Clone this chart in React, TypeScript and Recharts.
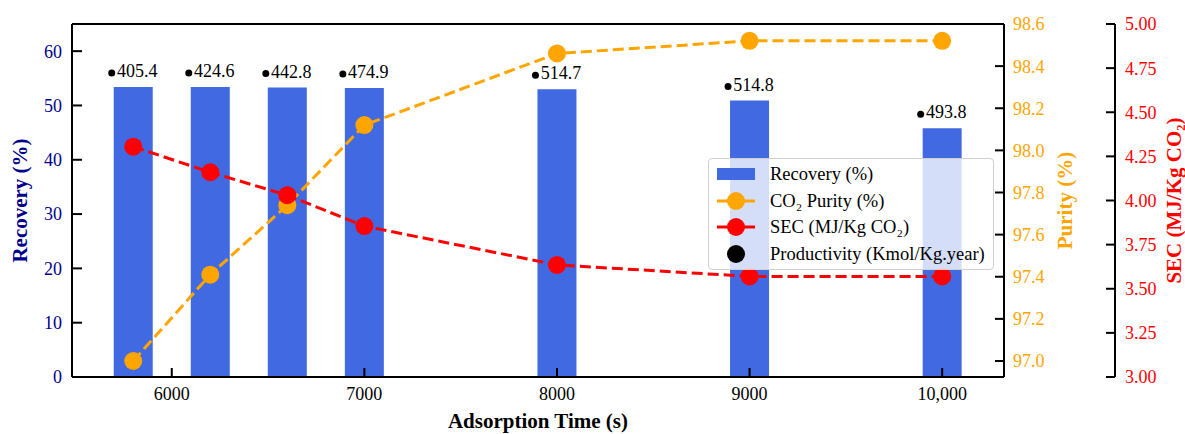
import React from 'react';
import { ComposedChart, Bar, Line, XAxis, YAxis, LabelList, ReferenceLine, Label } from 'recharts';

const adsorptionTimes = [5800, 6200, 6600, 7000, 8000, 9000, 10000];
const recovery = [53.4, 53.4, 53.3, 53.2, 53.0, 50.9, 45.8];
const co2Purity = [97.0, 97.41, 97.74, 98.12, 98.46, 98.52, 98.52];
const sec = [4.305, 4.16, 4.03, 3.855, 3.635, 3.57, 3.57];
const productivity = [405.4, 424.6, 442.8, 474.9, 514.7, 514.8, 493.8];

const xTicks = [6000, 7000, 8000, 9000, 10000];
const recoveryTicks = [0, 10, 20, 30, 40, 50, 60];
const purityTicks = [97.0, 97.2, 97.4, 97.6, 97.8, 98.0, 98.2, 98.4, 98.6];
const secTicks = [3.0, 3.25, 3.5, 3.75, 4.0, 4.25, 4.5, 4.75, 5.0];

const FONT = '"Liberation Serif", "Times New Roman", serif';
const NAVY = '#00008B';
const ORANGE = '#FFA500';
const RED = '#FF0000';
const BLUE = '#4169E1';

const chartData = adsorptionTimes.map((t, i) => ({
  time: t,
  recovery: recovery[i],
  purity: co2Purity[i],
  sec: sec[i],
  productivity: productivity[i],
}));

// tick text drawn by hand so the serif font sticks
const makeTick = (color: string, fmt: (v: number) => string, dy: string) => (p: any) => (
  <text x={p.x} y={p.y} dy={dy} textAnchor={p.textAnchor} fill={color}
    style={{ fontFamily: FONT, fontSize: 18 }}>
    {fmt(p.payload.value)}
  </text>
);

// productivity value printed above each bar, with a small black dot in front
const ProductivityLabel = (props: any) => {
  const { x, y, width, value } = props;
  const cx = x + width / 2;
  const cy = y - 14;
  return (
    <g>
      <circle cx={cx - 21.5} cy={cy} r={3.5} fill="#000" />
      <text x={cx + 4} y={cy} textAnchor="middle" dominantBaseline="middle" style={{ fontFamily: FONT, fontSize: 18 }} fill="#000">
        {value.toFixed(1)}
      </text>
    </g>
  );
};

const verticalTitle = (text: React.ReactNode, dx: number, color: string) => (props: any) => {
  const { viewBox } = props;
  const cx = viewBox.x + dx;
  const cy = viewBox.y + viewBox.height / 2;
  return (
    <text x={cx} y={cy} transform={`rotate(-90, ${cx}, ${cy})`} textAnchor="middle" dominantBaseline="middle"
      style={{ fontFamily: FONT, fontSize: 21, fontWeight: 'bold' }} fill={color}>
      {text}
    </text>
  );
};

const LegendBox = () => {
  const row = { display: 'flex', alignItems: 'center', height: 26.5 } as React.CSSProperties;
  const lineSwatch = (color: string) => (
    <svg width={40} height={22} style={{ marginRight: 14 }}>
      <line x1={1} y1={11} x2={39} y2={11} stroke={color} strokeWidth={3} />
      <circle cx={20} cy={11} r={9} fill={color} />
    </svg>
  );
  return (
    <div style={{
      position: 'absolute', left: 708, top: 158, width: 271,
      background: 'rgba(255,255,255,0.78)', border: '1.5px solid #d0d0d0', borderRadius: 4,
      padding: '2px 6px 2px 7px', fontFamily: FONT, fontSize: 18.5, color: '#000', lineHeight: 1,
    }}>
      <div style={row}>
        <svg width={40} height={22} style={{ marginRight: 14 }}><rect x={1} y={5} width={38} height={12} fill={BLUE} /></svg>
        <span>Recovery (%)</span>
      </div>
      <div style={row}>{lineSwatch(ORANGE)}<span>CO₂ Purity (%)</span></div>
      <div style={row}>{lineSwatch(RED)}<span>SEC (MJ/Kg CO₂)</span></div>
      <div style={row}>
        <svg width={40} height={22} style={{ marginRight: 14 }}><circle cx={20} cy={11} r={9} fill="#000" /></svg>
        <span>Productivity (Kmol/Kg.year)</span>
      </div>
    </div>
  );
};

export default function App() {
  return (
    <div style={{ position: 'absolute', left: 0, top: 0, width: 1185, height: 434, background: '#fff' }}>
      <ComposedChart width={1185} height={434} data={chartData} margin={{ top: 24, right: 0, left: 0, bottom: 0 }}>
        <XAxis
          dataKey="time"
          type="number"
          domain={[5482, 10321]}
          ticks={xTicks}
          allowDataOverflow
          height={57}
          tick={makeTick('#000', (v) => (v >= 10000 ? v.toLocaleString('en-US') : String(v)), '0.71em')}
          axisLine={{ stroke: '#000', strokeWidth: 2 }}
          tickLine={{ stroke: '#000', strokeWidth: 2 }}
          tickSize={-9}
          tickMargin={19}
        >
          <Label content={(props: any) => (
            <text x={props.viewBox.x + props.viewBox.width / 2} y={423} textAnchor="middle" dominantBaseline="middle"
              style={{ fontFamily: FONT, fontSize: 21, fontWeight: 'bold' }} fill="#000">Adsorption Time (s)</text>
          )} />
        </XAxis>
        <YAxis
          yAxisId="rec"
          orientation="left"
          width={72}
          domain={[0, 65]}
          ticks={recoveryTicks}
          allowDataOverflow
          tick={makeTick(NAVY, (v) => String(v), '0.355em')}
          axisLine={{ stroke: '#000', strokeWidth: 2 }}
          tickLine={{ stroke: '#000', strokeWidth: 2 }}
          tickSize={-10}
          tickMargin={20}
        >
          <Label content={verticalTitle('Recovery (%)', 22, NAVY)} />
        </YAxis>
        <YAxis
          yAxisId="pur"
          orientation="right"
          width={111}
          domain={[96.924, 98.6]}
          ticks={purityTicks}
          allowDataOverflow
          tick={makeTick(ORANGE, (v) => v.toFixed(1), '0.355em')}
          axisLine={{ stroke: '#000', strokeWidth: 2 }}
          tickLine={{ stroke: '#000', strokeWidth: 2 }}
          tickSize={-9}
          tickMargin={18}
        >
          <Label content={verticalTitle('Purity (%)', 63, ORANGE)} />
        </YAxis>
        <YAxis
          yAxisId="sec"
          orientation="right"
          width={70}
          domain={[3, 5]}
          ticks={secTicks}
          allowDataOverflow
          tick={makeTick(RED, (v) => v.toFixed(2), '0.355em')}
          axisLine={{ stroke: '#000', strokeWidth: 2 }}
          tickLine={{ stroke: '#000', strokeWidth: 2 }}
          tickSize={-9}
          tickMargin={19}
        >
          <Label content={verticalTitle('SEC (MJ/Kg CO₂)', 61, RED)} />
        </YAxis>
        <ReferenceLine yAxisId="rec" y={65} stroke="#000" strokeWidth={2} ifOverflow="visible" />
        <Bar yAxisId="rec" dataKey="recovery" fill={BLUE} barSize={39} isAnimationActive={false}>
          <LabelList dataKey="productivity" content={ProductivityLabel} />
        </Bar>
        <Line yAxisId="pur" dataKey="purity" stroke={ORANGE} strokeWidth={3} strokeDasharray="11 5"
          dot={{ r: 9, fill: ORANGE, stroke: 'none' }} activeDot={false} isAnimationActive={false} />
        <Line yAxisId="sec" dataKey="sec" stroke={RED} strokeWidth={3} strokeDasharray="11 5"
          dot={{ r: 9, fill: RED, stroke: 'none' }} activeDot={false} isAnimationActive={false} />
      </ComposedChart>
      <LegendBox />
    </div>
  );
}
